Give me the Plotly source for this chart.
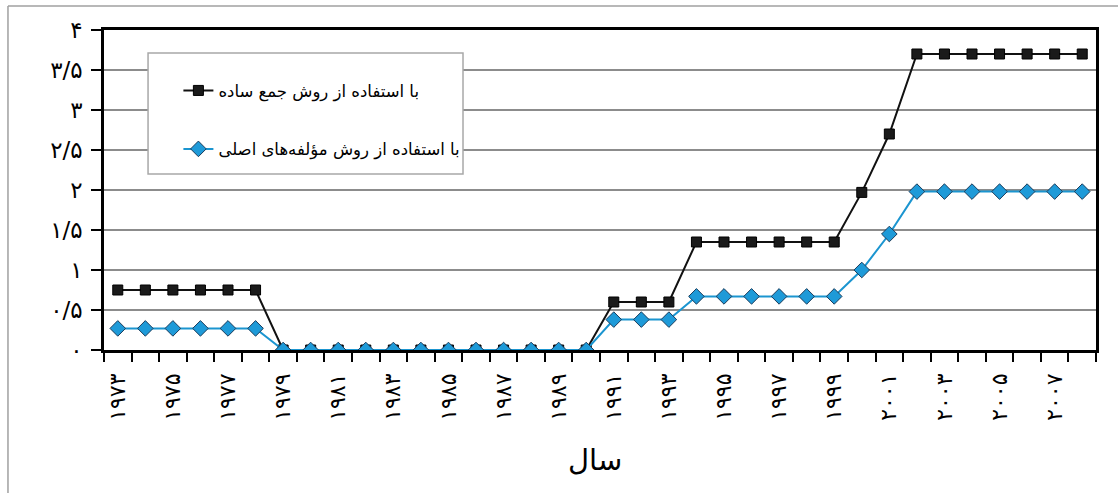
import plotly.graph_objects as go

years = list(range(1973, 2009))
simple_sum = [0.75, 0.75, 0.75, 0.75, 0.75, 0.75,
              0, 0, 0, 0, 0, 0, 0, 0, 0, 0, 0, 0,
              0.6, 0.6, 0.6,
              1.35, 1.35, 1.35, 1.35, 1.35, 1.35,
              1.97, 2.7,
              3.7, 3.7, 3.7, 3.7, 3.7, 3.7, 3.7]
pca = [0.27, 0.27, 0.27, 0.27, 0.27, 0.27,
       0, 0, 0, 0, 0, 0, 0, 0, 0, 0, 0, 0,
       0.38, 0.38, 0.38,
       0.67, 0.67, 0.67, 0.67, 0.67, 0.67,
       1.0, 1.45,
       1.98, 1.98, 1.98, 1.98, 1.98, 1.98, 1.98]

name_simple = "با استفاده از روش جمع ساده"
name_pca = "با استفاده از روش مؤلفه‌های اصلی"

x_tickvals = [1973, 1975, 1977, 1979, 1981, 1983, 1985, 1987, 1989,
              1991, 1993, 1995, 1997, 1999, 2001, 2003, 2005, 2007]
x_ticktext = ["۱۹۷۳", "۱۹۷۵", "۱۹۷۷", "۱۹۷۹", "۱۹۸۱", "۱۹۸۳", "۱۹۸۵", "۱۹۸۷", "۱۹۸۹",
              "۱۹۹۱", "۱۹۹۳", "۱۹۹۵", "۱۹۹۷", "۱۹۹۹", "۲۰۰۱", "۲۰۰۳", "۲۰۰۵", "۲۰۰۷"]
y_tickvals = [0, 0.5, 1, 1.5, 2, 2.5, 3, 3.5, 4]
y_ticktext = ["۰", "۰/۵", "۱", "۱/۵", "۲", "۲/۵", "۳", "۳/۵", "۴"]
x_title = "سال"

FONT = "DejaVu Sans, Noto Sans, sans-serif"

fig = go.Figure()
fig.add_trace(go.Scatter(
    x=years, y=simple_sum, mode="lines+markers", name=name_simple,
    legendgroup="a",
    line=dict(color="#111111", width=2),
    marker=dict(symbol="square", size=10, color="#1a1a1a",
                line=dict(color="#000000", width=1)),
))
fig.add_trace(go.Scatter(
    x=years, y=pca, mode="lines+markers", name=name_pca,
    legendgroup="b",
    line=dict(color="#1b95d0", width=2),
    marker=dict(symbol="diamond", size=12, color="#1e9ad8",
                line=dict(color="#1c3d5c", width=1)),
))

fig.update_layout(
    width=1118, height=493,
    margin=dict(l=104, r=22, t=30, b=143),
    paper_bgcolor="white", plot_bgcolor="white",
    font=dict(family=FONT, color="black"),
    showlegend=True,
    legend=dict(
        x=0.075, y=0.865, xanchor="left", yanchor="top",
        bgcolor="rgba(0,0,0,0)", borderwidth=0,
        traceorder="grouped", tracegroupgap=34,
        font=dict(size=16.5, family=FONT, color="black"),
    ),
    xaxis=dict(
        range=[1972.5, 2008.5],
        tickmode="array", tickvals=x_tickvals, ticktext=x_ticktext,
        tickangle=-90, ticks="", showgrid=False, zeroline=False,
        ticklabelstandoff=12,
        tickfont=dict(size=22, family=FONT, color="black"),
        showline=True, linecolor="black", linewidth=2.5, mirror=True,
        minor=dict(tickmode="array",
                   tickvals=[y - 0.5 for y in years] + [years[-1] + 0.5],
                   ticks="outside", ticklen=9, tickwidth=2, tickcolor="black",
                   showgrid=False),
    ),
    yaxis=dict(
        range=[0, 4],
        tickmode="array", tickvals=y_tickvals, ticktext=y_ticktext,
        ticks="outside", ticklen=10, tickwidth=2, tickcolor="black",
        showgrid=True, gridcolor="#8c8c8c", gridwidth=2,
        zeroline=False,
        ticklabelstandoff=4,
        tickfont=dict(size=23, family=FONT, color="black"),
        showline=True, linecolor="black", linewidth=2.5, mirror=True,
    ),
    shapes=[
        dict(type="rect", xref="paper", yref="paper",
             x0=0.0444, x1=0.3619, y0=0.55, y1=0.928,
             line=dict(color="#a8a8a8", width=1.5), fillcolor="white",
             layer="above"),
        dict(type="line", xref="paper", yref="paper",
             x0=-0.0968, x1=1.1, y0=1.075, y1=1.075,
             line=dict(color="#a0a0a0", width=1.5)),
        dict(type="line", xref="paper", yref="paper",
             x0=-0.0968, x1=-0.0968, y0=-0.5, y1=1.075,
             line=dict(color="#a0a0a0", width=1.5)),
    ],
    annotations=[
        dict(text=x_title, xref="paper", yref="paper",
             x=0.495, y=-0.345, xanchor="center", yanchor="middle",
             showarrow=False, font=dict(size=29, family=FONT, color="black")),
    ],
)

fig.write_html("out.html")
